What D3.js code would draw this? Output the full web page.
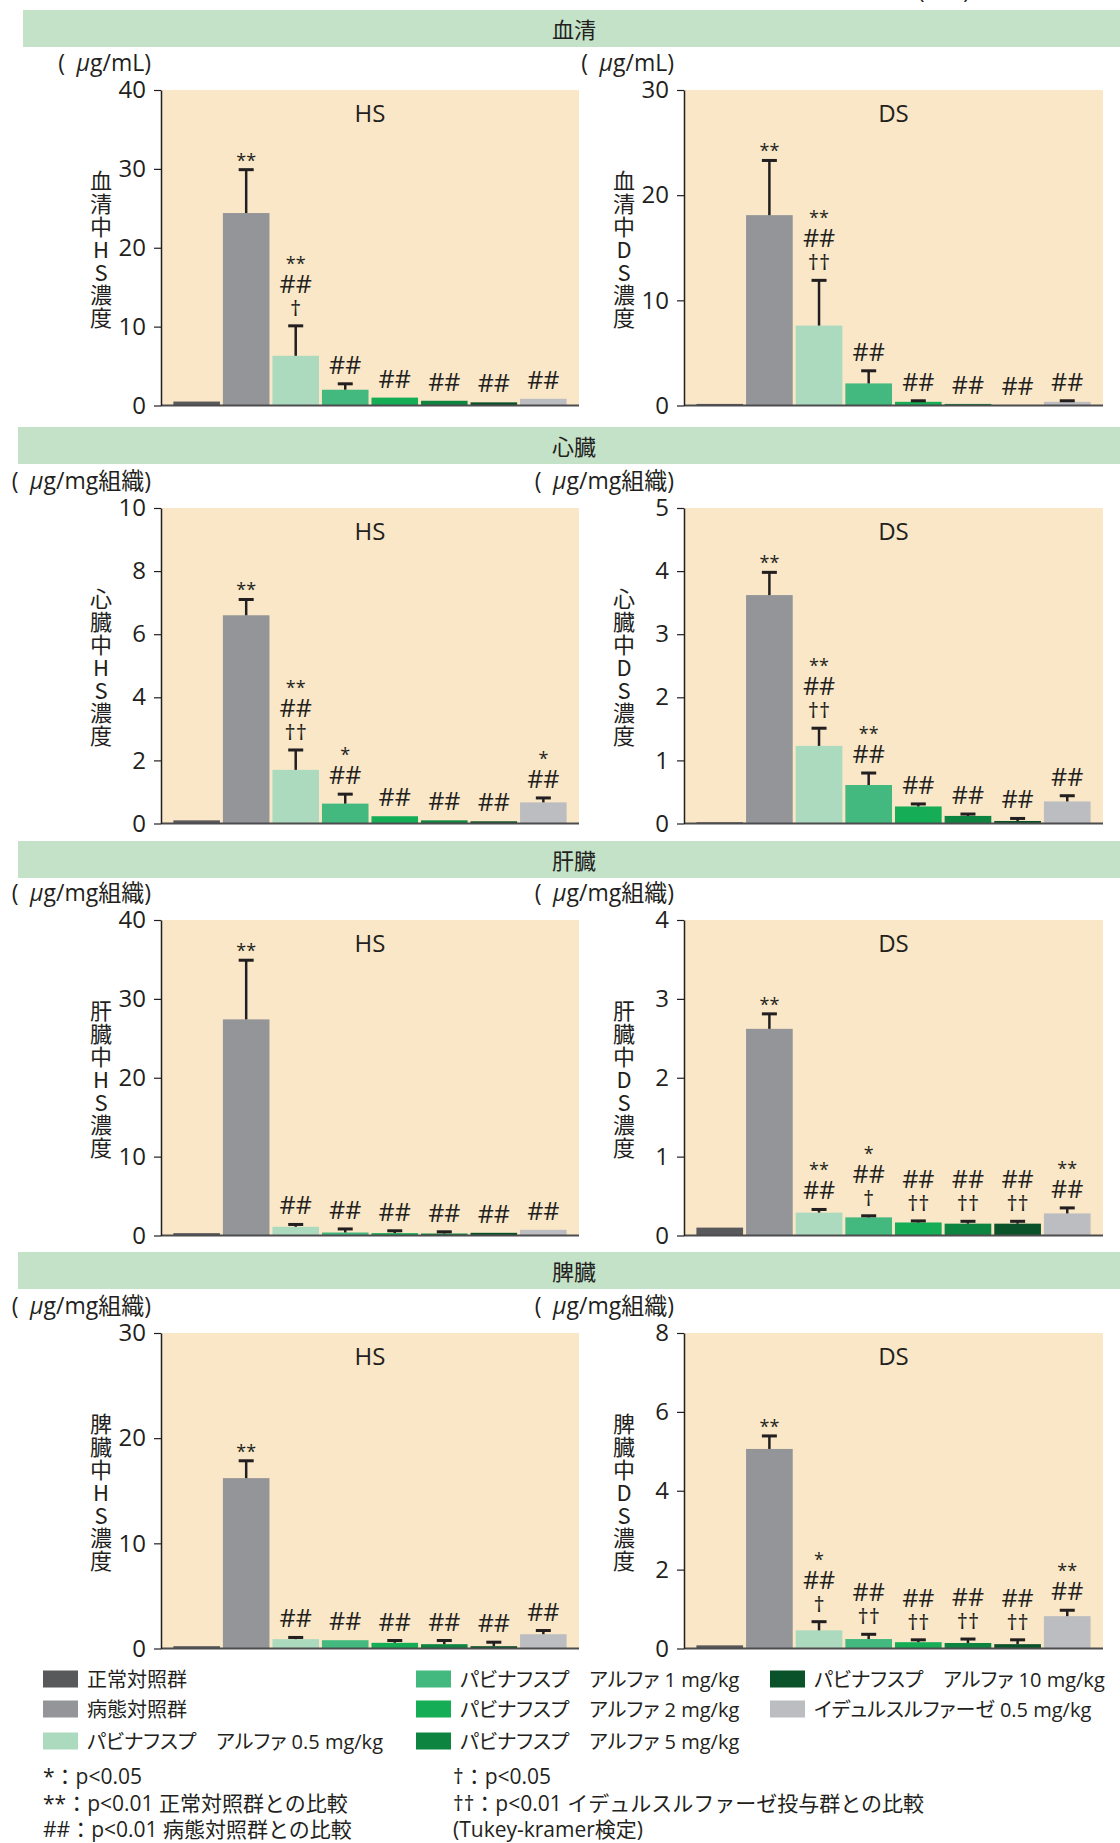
<!DOCTYPE html>
<html>
<head>
<meta charset="utf-8">
<script src="https://cdn.jsdelivr.net/npm/d3@7"></script>
<style>
  body { margin: 0; background: #fff; }
  svg { display: block; }
  text { font-family: "Open Sans", "Noto Sans CJK JP", sans-serif; fill: #231f20; }
  .palt { font-feature-settings: "palt"; }
</style>
</head>
<body>
<div id="container"></div>
<script>
// <--------- data --------->
const groups = [
  "正常対照群",
  "病態対照群",
  "パビナフスプ　アルファ 0.5 mg/kg",
  "パビナフスプ　アルファ 1 mg/kg",
  "パビナフスプ　アルファ 2 mg/kg",
  "パビナフスプ　アルファ 5 mg/kg",
  "パビナフスプ　アルファ 10 mg/kg",
  "イデュルスルファーゼ 0.5 mg/kg"
];
const groupColors = ["#58595b", "#939598", "#acdabe", "#43b97f", "#15ad55", "#0d8541", "#0a5229", "#bcbdc0"];

const organs = ["血清", "心臓", "肝臓", "脾臓"];
const units = ["μg/mL", "μg/mg組織", "μg/mg組織", "μg/mg組織"];
const substances = ["HS", "DS"];

// axis max and tick step, [HS, DS] for each organ
const axisMax = [[40, 30], [10, 5], [40, 4], [30, 8]];
const axisStep = [[10, 10], [2, 1], [10, 1], [10, 2]];

const serumHS = [0.5, 24.4, 6.3, 2.0, 1.0, 0.6, 0.4, 0.85];
const serumHSErr = [0, 5.5, 3.8, 0.75, 0, 0, 0, 0];
const serumDS = [0.15, 18.1, 7.6, 2.1, 0.35, 0.15, 0.05, 0.35];
const serumDSErr = [0, 5.2, 4.3, 1.2, 0.1, 0, 0, 0.1];

const heartHS = [0.1, 6.6, 1.7, 0.63, 0.23, 0.1, 0.07, 0.67];
const heartHSErr = [0, 0.5, 0.63, 0.3, 0, 0, 0, 0.14];
const heartDS = [0.02, 3.62, 1.23, 0.61, 0.27, 0.12, 0.04, 0.35];
const heartDSErr = [0, 0.36, 0.28, 0.19, 0.04, 0.03, 0.04, 0.09];

const liverHS = [0.3, 27.4, 1.1, 0.38, 0.3, 0.25, 0.34, 0.72];
const liverHSErr = [0, 7.5, 0.3, 0.45, 0.3, 0.22, 0, 0];
const liverDS = [0.1, 2.62, 0.29, 0.23, 0.165, 0.15, 0.15, 0.28];
const liverDSErr = [0, 0.19, 0.04, 0.02, 0.02, 0.03, 0.03, 0.07];

const spleenHS = [0.22, 16.2, 0.89, 0.79, 0.54, 0.41, 0.22, 1.36];
const spleenHSErr = [0, 1.65, 0.16, 0, 0.22, 0.35, 0.38, 0.35];
const spleenDS = [0.08, 5.06, 0.46, 0.24, 0.16, 0.14, 0.11, 0.82];
const spleenDSErr = [0, 0.33, 0.22, 0.12, 0.06, 0.1, 0.11, 0.15];

// significance marks, top line first
const serumHSMarks = [[], ["**"], ["**", "##", "†"], ["##"], ["##"], ["##"], ["##"], ["##"]];
const serumDSMarks = [[], ["**"], ["**", "##", "††"], ["##"], ["##"], ["##"], ["##"], ["##"]];
const heartHSMarks = [[], ["**"], ["**", "##", "††"], ["*", "##"], ["##"], ["##"], ["##"], ["*", "##"]];
const heartDSMarks = [[], ["**"], ["**", "##", "††"], ["**", "##"], ["##"], ["##"], ["##"], ["##"]];
const liverHSMarks = [[], ["**"], ["##"], ["##"], ["##"], ["##"], ["##"], ["##"]];
const liverDSMarks = [[], ["**"], ["**", "##"], ["*", "##", "†"], ["##", "††"], ["##", "††"], ["##", "††"], ["**", "##"]];
const spleenHSMarks = [[], ["**"], ["##"], ["##"], ["##"], ["##"], ["##"], ["##"]];
const spleenDSMarks = [[], ["**"], ["*", "##", "†"], ["##", "††"], ["##", "††"], ["##", "††"], ["##", "††"], ["**", "##"]];

const footLeft = ["*：p<0.05", "**：p<0.01 正常対照群との比較", "##：p<0.01 病態対照群との比較"];
const footRight = ["†：p<0.05", "††：p<0.01 イデュルスルファーゼ投与群との比較", "(Tukey-kramer検定)"];

// <--------- layout --------->
const W = 1120, H = 1843;
const rowTops = [90, 508, 920, 1333];
const rowH = 315.5;
const bandTops = [10, 427, 841, 1252];
const bandLeft = [23, 18, 18, 18];
const colX = [[161, 579], [684, 1103]];

let svg = d3.select("#container")
  .append("svg")
    .attr("width", W)
    .attr("height", H)
;

// cut off text at the very top
svg.append("text")
  .attr("x", 918).attr("y", -1)
  .style("font-size", "22px")
  .text("(n=3)");

// green section bands
organs.forEach(function(o, r){
  svg.append("rect")
    .attr("x", bandLeft[r]).attr("y", bandTops[r])
    .attr("width", W - bandLeft[r]).attr("height", 37)
    .attr("fill", "#c4e2c8");
  svg.append("text")
    .attr("x", 574).attr("y", bandTops[r] + 18.5)
    .attr("text-anchor", "middle")
    .attr("dominant-baseline", "central")
    .style("font-size", "22px")
    .text(o);
});

const panels = [
  [serumHS, serumHSErr, serumHSMarks], [serumDS, serumDSErr, serumDSMarks],
  [heartHS, heartHSErr, heartHSMarks], [heartDS, heartDSErr, heartDSMarks],
  [liverHS, liverHSErr, liverHSMarks], [liverDS, liverDSErr, liverDSMarks],
  [spleenHS, spleenHSErr, spleenHSMarks], [spleenDS, spleenDSErr, spleenDSMarks]
];

function drawPanel(r, c){
  let vals = panels[r * 2 + c][0];
  let errs = panels[r * 2 + c][1];
  let marks = panels[r * 2 + c][2];
  let x0 = colX[c][0], x1 = colX[c][1];
  let top = rowTops[r], bottom = rowTops[r] + rowH;

  let y = d3.scaleLinear().domain([0, axisMax[r][c]]).range([bottom, top]);
  let x = d3.scaleBand().domain(d3.range(8)).range([x0, x1])
    .paddingInner(0.06).paddingOuter(0.25);

  let g = svg.append("g").attr("class", "panel");

  g.append("rect")
    .attr("x", x0).attr("y", top)
    .attr("width", x1 - x0).attr("height", bottom - top)
    .attr("fill", "#f9e7c7");

  // bars
  g.selectAll(".bar").data(vals).enter()
    .append("rect")
      .attr("class", "bar")
      .attr("x", (d, i) => x(i))
      .attr("y", d => y(d))
      .attr("width", x.bandwidth())
      .attr("height", d => bottom - y(d))
      .attr("fill", (d, i) => groupColors[i]);

  // error bars
  let idx = d3.range(8).filter(i => errs[i] > 0);
  let eb = g.selectAll(".err").data(idx).enter()
    .append("g").attr("class", "err");
  eb.append("line")
    .attr("x1", i => x(i) + x.bandwidth() / 2)
    .attr("x2", i => x(i) + x.bandwidth() / 2)
    .attr("y1", i => y(vals[i]))
    .attr("y2", i => y(vals[i] + errs[i]))
    .attr("stroke", "#231f20").attr("stroke-width", 2.5);
  eb.append("rect")
    .attr("x", i => x(i) + x.bandwidth() / 2 - 7.5)
    .attr("y", i => y(vals[i] + errs[i]) - 1.5)
    .attr("width", 15).attr("height", 3)
    .attr("fill", "#231f20");

  // baseline
  g.append("line")
    .attr("x1", x0).attr("x2", x1)
    .attr("y1", bottom).attr("y2", bottom)
    .attr("stroke", "#4d4d4f").attr("stroke-width", 2);

  // y axis
  let ax = g.append("g")
    .attr("transform", "translate(" + x0 + ",0)")
    .call(d3.axisLeft(y)
      .tickValues(d3.range(0, axisMax[r][c] + 1e-9, axisStep[r][c]))
      .tickFormat(d3.format("d"))
      .tickSize(7).tickSizeOuter(0).tickPadding(8));
  ax.attr("font-family", null).attr("font-size", null);
  ax.select(".domain").attr("stroke", "#231f20").attr("stroke-width", 1.5);
  ax.selectAll(".tick line").attr("stroke", "#231f20").attr("stroke-width", 1.2);
  ax.selectAll(".tick text").style("font-size", "24px").attr("fill", "#231f20");

  // title inside plot
  g.append("text")
    .attr("x", (x0 + x1) / 2).attr("y", top + 32)
    .attr("text-anchor", "middle")
    .style("font-size", "24px")
    .text(substances[c]);

  // unit label
  let u = g.append("text")
    .attr("x", x0 - 10).attr("y", top - 19)
    .attr("text-anchor", "end")
    .style("font-size", "23px");
  u.append("tspan").text("(\u2002");
  u.append("tspan").style("font-style", "italic").text(units[r].slice(0, 1));
  u.append("tspan").text(units[r].slice(1) + ")");

  // vertical axis title
  let chars = organs[r].split("").concat(["中"], substances[c].split(""), ["濃", "度"]);
  let mid = (top + bottom) / 2;
  g.selectAll(".ytitle").data(chars).enter()
    .append("text")
      .attr("class", "ytitle")
      .attr("x", x0 - 60)
      .attr("y", (d, i) => mid + (i - (chars.length - 1) / 2) * 22.8)
      .attr("text-anchor", "middle")
      .attr("dominant-baseline", "central")
      .style("font-family", "'Noto Sans CJK JP', sans-serif")
      .style("font-size", "22px")
      .text(d => d);

  // significance marks
  marks.forEach(function(m, i){
    if (m.length == 0) return;
    let cx = x(i) + x.bandwidth() / 2;
    let capY = y(vals[i] + errs[i]);
    let last = m[m.length - 1];
    let base = capY - (last.indexOf("*") >= 0 ? 3 : 10);
    m.slice().reverse().forEach(function(s, k){
      let fs = s.indexOf("*") >= 0 ? 18 : (s.indexOf("#") >= 0 ? 25 : 22);
      g.append("text")
        .attr("x", cx).attr("y", base - k * 23)
        .attr("text-anchor", "middle")
        .style("font-size", fs + "px")
        .text(s);
    });
  });
}

for (let r = 0; r < 4; r++){
  drawPanel(r, 0);
  drawPanel(r, 1);
}

// <--------- legend --------->
const legX = [[43, 87], [416, 457], [770, 811]];
const legY = [1679, 1709, 1741];
let legend = svg.selectAll(".leg").data(groups).enter()
  .append("g")
    .attr("class", "leg")
    .attr("transform", function(d, i){
      let col = i < 3 ? 0 : (i < 6 ? 1 : 2);
      let row = i < 3 ? i : (i < 6 ? i - 3 : i - 6);
      return "translate(" + legX[col][0] + "," + legY[row] + ")";
    });
legend.append("rect")
  .attr("x", 0).attr("y", -8.5)
  .attr("width", 35).attr("height", 17)
  .attr("fill", (d, i) => groupColors[i]);
legend.append("text")
  .attr("class", "palt")
  .attr("x", 44).attr("y", 0)
  .attr("dominant-baseline", "central")
  .style("font-size", "20px")
  .text(d => d);

// <--------- footnotes --------->
footLeft.forEach(function(t, i){
  svg.append("text")
    .attr("x", 43).attr("y", 1784 + i * 26.5)
    .style("font-size", "21px")
    .text(t);
});
footRight.forEach(function(t, i){
  svg.append("text")
    .attr("x", 453).attr("y", 1784 + i * 26.5)
    .style("font-size", "21px")
    .text(t);
});
</script>
</body>
</html>
